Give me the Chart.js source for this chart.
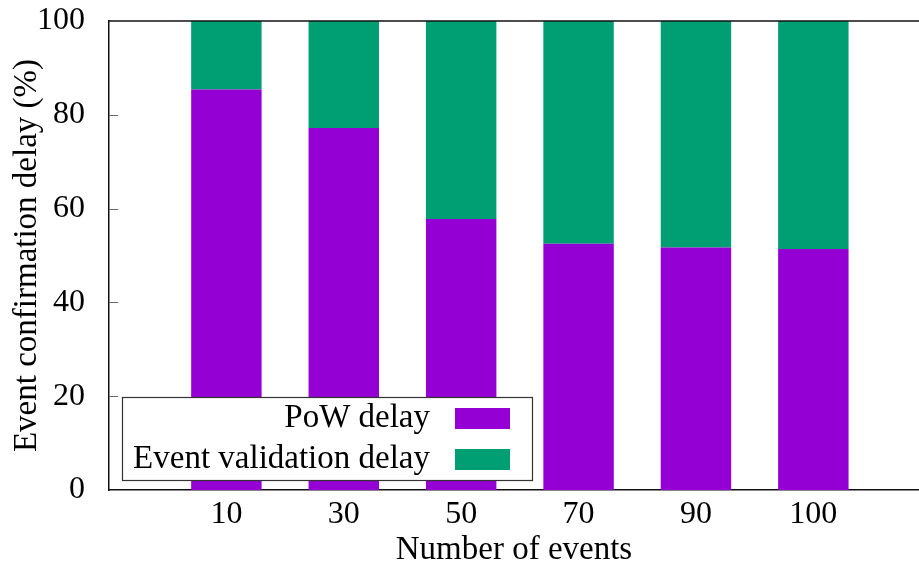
<!DOCTYPE html>
<html><head><meta charset="utf-8">
<script src="https://cdn.jsdelivr.net/npm/chart.js@4"></script>
<style>html,body{margin:0;padding:0;background:#fff}#wrap{width:919px;height:566px}</style>
</head><body><div id="wrap"><canvas id="c" width="919" height="566"></canvas></div>
<script>
const categories = ['10', '30', '50', '70', '90', '100'];
const powDelay = [85.4, 77.2, 57.8, 52.5, 51.7, 51.4];
const validationDelay = [14.6, 22.8, 42.2, 47.5, 48.3, 48.6];
const yTicks = [0, 20, 40, 60, 80, 100];
const seriesLabels = ['PoW delay', 'Event validation delay'];
const seriesColors = ['#9400D3', '#009E73'];
const xTitle = 'Number of events';
const yTitle = 'Event confirmation delay (%)';

const FONT = "'Liberation Serif', 'Times New Roman', serif";

const framePlugin = {
  id: 'frame',
  afterDatasetsDraw(chart) {
    const ctx = chart.ctx, ca = chart.chartArea, y = chart.scales.y;
    ctx.save();
    // inner tick marks
    ctx.strokeStyle = '#666'; ctx.lineWidth = 1;
    yTicks.forEach(v => {
      if (v === 0 || v === 100) return;
      const py = Math.round(y.getPixelForValue(v)) + 0.5;
      ctx.beginPath(); ctx.moveTo(ca.left, py); ctx.lineTo(ca.left + 9, py); ctx.stroke();
    });
    // top border
    ctx.strokeStyle = '#111'; ctx.lineWidth = 1.5;
    ctx.beginPath(); ctx.moveTo(ca.left, ca.top); ctx.lineTo(chart.width, ca.top); ctx.stroke();
    // legend
    const bx = ca.left + 13, bw = 410, bh = 83, by = ca.bottom - 93;
    ctx.fillStyle = '#fff'; ctx.fillRect(bx, by, bw, bh);
    ctx.strokeStyle = '#333'; ctx.lineWidth = 1.2;
    ctx.strokeRect(bx + 0.5, by + 0.5, bw, bh);
    ctx.font = '33px ' + FONT; ctx.textAlign = 'right'; ctx.textBaseline = 'middle';
    chart.data.datasets.forEach((ds, i) => {
      const cy = by + 21 + i * 41;
      ctx.fillStyle = '#000';
      ctx.fillText(ds.label, bx + 308, cy);
      ctx.fillStyle = ds.backgroundColor;
      ctx.fillRect(bx + 333, cy - 10, 55, 21);
    });
    ctx.restore();
  }
};

new Chart(document.getElementById('c'), {
  type: 'bar',
  data: {
    datasets: [
      { label: seriesLabels[0], data: powDelay.map((v, i) => ({ x: i, y: v })), backgroundColor: seriesColors[0] },
      { label: seriesLabels[1], data: validationDelay.map((v, i) => ({ x: i, y: v })), backgroundColor: seriesColors[1] }
    ]
  },
  options: {
    responsive: false, animation: false, devicePixelRatio: 1,
    barPercentage: 0.6, categoryPercentage: 1,
    layout: { padding: { left: 8, top: 21, right: 0, bottom: 0 } },
    plugins: { legend: { display: false }, tooltip: { enabled: false } },
    scales: {
      x: {
        type: 'linear', stacked: true, min: -1, max: 5.9, offset: false,
        grid: { display: false },
        border: { display: true, color: '#111', width: 1.5 },
        afterBuildTicks: s => { s.ticks = categories.map((c, i) => ({ value: i })); },
        ticks: {
          autoSkip: false, maxRotation: 0, color: '#000', padding: -3,
          font: { family: FONT, size: 32 },
          callback: v => categories[v]
        },
        title: { display: true, text: xTitle, color: '#000', font: { family: FONT, size: 33 }, padding: { top: 0, bottom: -4 } },
        afterFit: s => { s.height = 76; s.paddingLeft = 0; s.paddingRight = 0; }
      },
      y: {
        stacked: true, min: 0, max: 100,
        grid: { display: false },
        border: { display: true, color: '#111', width: 1.5 },
        afterBuildTicks: s => { s.ticks = yTicks.map(v => ({ value: v })); },
        ticks: { color: '#000', padding: 16, font: { family: FONT, size: 32 } },
        title: { display: true, text: yTitle, color: '#000', font: { family: FONT, size: 33 }, padding: { top: 0, bottom: 0 } },
        afterFit: s => { s.width = 101; s.paddingTop = 0; s.paddingBottom = 0; }
      }
    }
  },
  plugins: [framePlugin]
});
</script>
</body></html>
